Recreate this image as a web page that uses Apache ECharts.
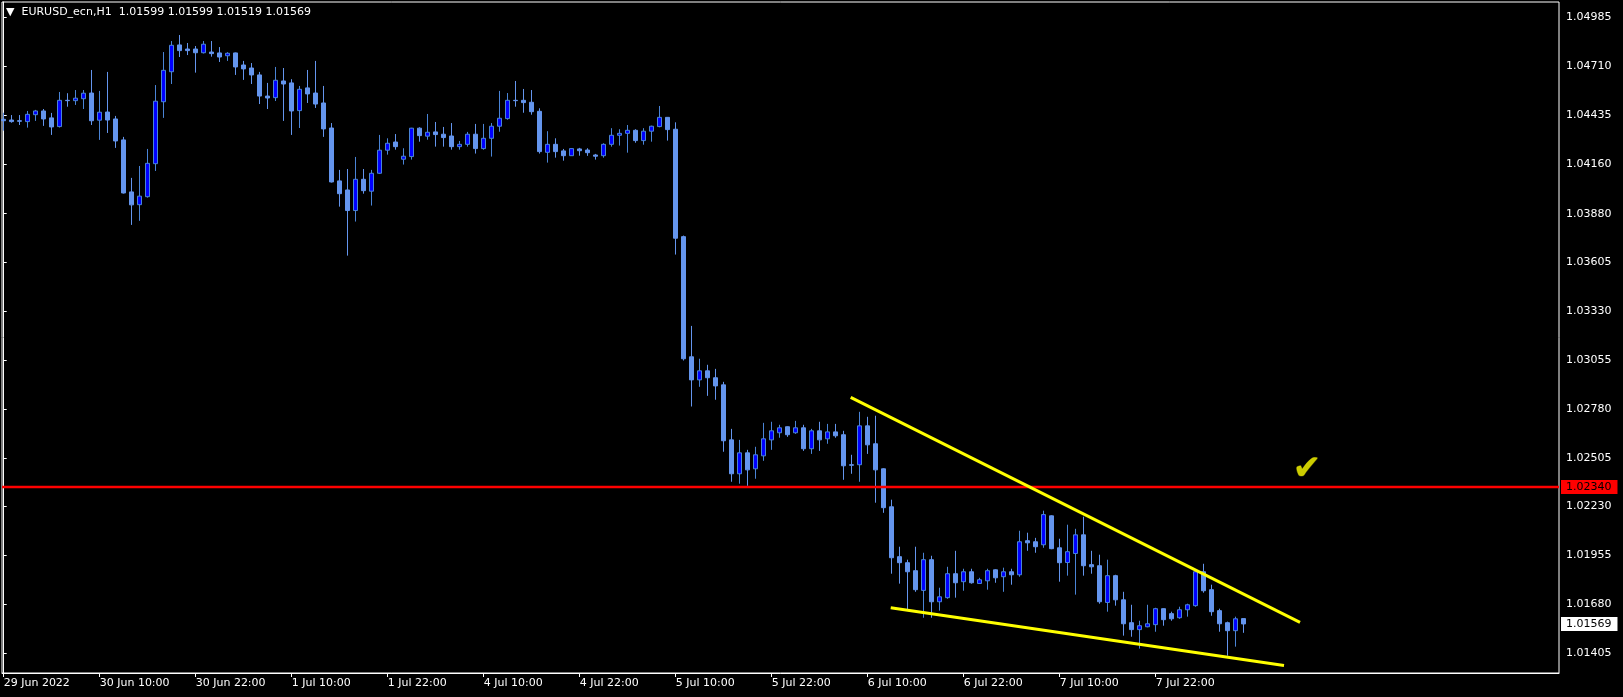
<!DOCTYPE html>
<html><head><meta charset="utf-8">
<script src="https://cdn.jsdelivr.net/npm/echarts@6/dist/echarts.min.js"></script>
<style>html,body{margin:0;padding:0;background:#000;}#c{width:1623px;height:697px;}</style>
</head><body><div id="c"></div>
<script>
const symbolName = 'EURUSD_ecn,H1';
const opens = [1.04412,1.04408,1.04404,1.04399,1.04438,1.04459,1.04420,1.04371,1.04519,1.04517,1.04528,1.04560,1.04407,1.04453,1.04414,1.04296,1.04003,1.03931,1.03976,1.04162,1.04511,1.04680,1.04831,1.04808,1.04808,1.04787,1.04791,1.04786,1.04770,1.04786,1.04718,1.04701,1.04662,1.04543,1.04534,1.04628,1.04617,1.04461,1.04589,1.04560,1.04504,1.04363,1.04065,1.04014,1.03898,1.04074,1.04007,1.04108,1.04238,1.04284,1.04187,1.04202,1.04362,1.04317,1.04341,1.04328,1.04318,1.04258,1.04271,1.04328,1.04247,1.04305,1.04373,1.04416,1.04519,1.04519,1.04508,1.04457,1.04226,1.04271,1.04234,1.04207,1.04245,1.04239,1.04211,1.04207,1.04271,1.04322,1.04333,1.04350,1.04292,1.04345,1.04371,1.04423,1.04356,1.03751,1.03074,1.02944,1.02995,1.02956,1.02916,1.02606,1.02415,1.02533,1.02443,1.02516,1.02606,1.02646,1.02680,1.02646,1.02674,1.02556,1.02657,1.02612,1.02651,1.02635,1.02466,1.02466,1.02685,1.02584,1.02443,1.02229,1.01948,1.01914,1.01869,1.01758,1.01931,1.01694,1.01717,1.01852,1.01807,1.01863,1.01797,1.01812,1.01874,1.01835,1.01863,1.01846,1.02038,1.02032,1.02015,1.02178,1.01998,1.01915,1.01966,1.02071,1.01903,1.01897,1.01690,1.01841,1.01705,1.01576,1.01537,1.01553,1.01565,1.01655,1.01627,1.01604,1.01649,1.01672,1.01863,1.01762,1.01644,1.01576,1.01531,1.01599];
const highs = [1.04449,1.04436,1.04436,1.04459,1.04465,1.04470,1.04448,1.04566,1.04559,1.04577,1.04577,1.04690,1.04572,1.04679,1.04431,1.04313,1.04082,1.04149,1.04245,1.04605,1.04791,1.04853,1.04887,1.04842,1.04825,1.04853,1.04853,1.04819,1.04790,1.04788,1.04741,1.04729,1.04679,1.04617,1.04707,1.04701,1.04638,1.04600,1.04690,1.04741,1.04600,1.04391,1.04127,1.04132,1.04200,1.04132,1.04127,1.04324,1.04305,1.04329,1.04249,1.04364,1.04367,1.04442,1.04397,1.04369,1.04391,1.04290,1.04341,1.04386,1.04386,1.04391,1.04572,1.04560,1.04628,1.04583,1.04577,1.04474,1.04345,1.04305,1.04245,1.04248,1.04251,1.04249,1.04217,1.04277,1.04362,1.04356,1.04380,1.04356,1.04362,1.04376,1.04487,1.04425,1.04395,1.03757,1.03248,1.03063,1.03029,1.03006,1.02933,1.02668,1.02606,1.02550,1.02567,1.02702,1.02708,1.02691,1.02682,1.02713,1.02691,1.02668,1.02708,1.02696,1.02696,1.02657,1.02522,1.02764,1.02736,1.02742,1.02446,1.02269,1.02004,1.01931,1.02004,1.01970,1.01953,1.01773,1.01891,1.01981,1.01880,1.01880,1.01829,1.01880,1.01877,1.01886,1.01880,1.02094,1.02083,1.02054,1.02207,1.02181,1.02049,1.02128,1.02105,1.02173,1.01981,1.01959,1.01931,1.01846,1.01750,1.01677,1.01587,1.01677,1.01660,1.01657,1.01638,1.01666,1.01683,1.01865,1.01908,1.01790,1.01655,1.01582,1.01610,1.01599];
const lows = [1.04348,1.04393,1.04380,1.04365,1.04403,1.04375,1.04324,1.04366,1.04483,1.04493,1.04470,1.04380,1.04296,1.04335,1.04251,1.03994,1.03817,1.03840,1.03971,1.04121,1.04420,1.04611,1.04763,1.04774,1.04675,1.04783,1.04765,1.04735,1.04741,1.04662,1.04634,1.04611,1.04498,1.04470,1.04515,1.04403,1.04324,1.04363,1.04504,1.04476,1.04313,1.04056,1.03920,1.03644,1.03836,1.03993,1.03926,1.04104,1.04213,1.04241,1.04157,1.04185,1.04286,1.04297,1.04258,1.04258,1.04241,1.04241,1.04258,1.04219,1.04241,1.04202,1.04342,1.04410,1.04483,1.04449,1.04438,1.04219,1.04168,1.04196,1.04179,1.04206,1.04207,1.04206,1.04185,1.04196,1.04258,1.04264,1.04224,1.04280,1.04269,1.04286,1.04367,1.04292,1.03650,1.03053,1.02794,1.02905,1.02854,1.02832,1.02539,1.02370,1.02359,1.02347,1.02387,1.02488,1.02550,1.02618,1.02623,1.02640,1.02544,1.02527,1.02544,1.02584,1.02618,1.02381,1.02415,1.02370,1.02527,1.02252,1.02195,1.01852,1.01796,1.01649,1.01750,1.01604,1.01604,1.01644,1.01711,1.01717,1.01756,1.01796,1.01796,1.01762,1.01801,1.01750,1.01790,1.01835,1.01981,1.01970,1.01998,1.01990,1.01807,1.01841,1.01734,1.01841,1.01852,1.01683,1.01638,1.01672,1.01503,1.01497,1.01430,1.01550,1.01525,1.01559,1.01587,1.01598,1.01610,1.01666,1.01745,1.01615,1.01525,1.01390,1.01441,1.01519];
const closes = [1.04404,1.04399,1.04401,1.04440,1.04459,1.04414,1.04369,1.04519,1.04517,1.04531,1.04559,1.04404,1.04452,1.04408,1.04290,1.03997,1.03930,1.03979,1.04164,1.04514,1.04688,1.04829,1.04799,1.04799,1.04787,1.04835,1.04782,1.04763,1.04784,1.04707,1.04696,1.04662,1.04543,1.04532,1.04632,1.04611,1.04459,1.04581,1.04555,1.04498,1.04358,1.04059,1.03993,1.03898,1.04074,1.04010,1.04108,1.04238,1.04277,1.04258,1.04204,1.04362,1.04320,1.04339,1.04326,1.04309,1.04258,1.04271,1.04328,1.04247,1.04305,1.04373,1.04418,1.04519,1.04517,1.04506,1.04455,1.04230,1.04271,1.04230,1.04207,1.04247,1.04235,1.04224,1.04204,1.04271,1.04322,1.04333,1.04350,1.04292,1.04345,1.04373,1.04423,1.04354,1.03742,1.03063,1.02944,1.02995,1.02956,1.02910,1.02601,1.02415,1.02533,1.02437,1.02522,1.02612,1.02657,1.02674,1.02635,1.02674,1.02556,1.02657,1.02606,1.02651,1.02629,1.02460,1.02463,1.02685,1.02578,1.02437,1.02224,1.01942,1.01914,1.01863,1.01762,1.01931,1.01694,1.01722,1.01852,1.01801,1.01863,1.01801,1.01818,1.01869,1.01829,1.01863,1.01846,1.02032,1.02026,1.02004,1.02185,1.01993,1.01914,1.01976,1.02071,1.01897,1.01891,1.01694,1.01841,1.01705,1.01570,1.01537,1.01559,1.01570,1.01655,1.01593,1.01598,1.01649,1.01677,1.01863,1.01756,1.01638,1.01570,1.01531,1.01598,1.01569];
const timeTickIndex = [0,12,24,36,48,60,72,84,96,108,120,132,144];
const timeTickLabels = ['29 Jun 2022','30 Jun 10:00','30 Jun 22:00','1 Jul 10:00','1 Jul 22:00','4 Jul 10:00','4 Jul 22:00','5 Jul 10:00','5 Jul 22:00','6 Jul 10:00','6 Jul 22:00','7 Jul 10:00','7 Jul 22:00'];
const priceTicks = [1.01405,1.01680,1.01955,1.02230,1.02505,1.02780,1.03055,1.03330,1.03605,1.03880,1.04160,1.04435,1.04710,1.04985];
const levelPrice = 1.02340;
const upperTrend = [[105.875, 1.02845],[162.04, 1.01578]];
const lowerTrend = [[110.875, 1.01660],[160.04, 1.01335]];
const checkMark = [162.9, 1.02437];
const xMin = -0.2125, xMax = 194.4125;
const yMin = 1.012926, yMax = 1.050729;

const FONT = 'DejaVu Sans';
const candleData = opens.map((o, i) => [i, o, closes[i], lows[i], highs[i]]);
const last = opens.length - 1;
const fmt = v => v.toFixed(5);
const chart = echarts.init(document.getElementById('c'), null, {renderer: 'canvas'});
chart.setOption({
  animation: false,
  backgroundColor: '#000000',
  title: {
    text: '▼  ' + symbolName + '  ' + [opens[last], highs[last], lows[last], closes[last]].map(fmt).join(' '),
    left: 6, top: 7, padding: 0,
    textStyle: {color: '#ffffff', fontSize: 11, fontWeight: 'normal', fontFamily: FONT}
  },
  grid: {left: 2, top: 2, right: 64, bottom: 24, show: true, borderColor: '#ffffff', borderWidth: 1, backgroundColor: '#000000'},
  xAxis: {
    type: 'value', min: xMin, max: xMax,
    axisLine: {show: true, lineStyle: {color: '#ffffff', width: 1}},
    axisTick: {show: true, length: 4, lineStyle: {color: '#ffffff'}, customValues: timeTickIndex},
    axisLabel: {show: true, color: '#ffffff', fontSize: 11, fontFamily: FONT, align: 'left', margin: 5,
      customValues: timeTickIndex,
      formatter: v => timeTickLabels[timeTickIndex.indexOf(Math.round(v))] || ''},
    splitLine: {show: false}
  },
  yAxis: [{
    type: 'value', position: 'right', min: yMin, max: yMax,
    axisLine: {show: true, lineStyle: {color: '#ffffff', width: 1}},
    axisTick: {show: true, length: 3, lineStyle: {color: '#ffffff'}, customValues: priceTicks},
    axisLabel: {show: true, color: '#ffffff', fontSize: 11, fontFamily: FONT, margin: 7,
      customValues: priceTicks, formatter: v => fmt(v)},
    splitLine: {show: false}
  }, {
    type: 'value', position: 'right', min: yMin, max: yMax, offset: 0,
    axisLine: {show: false}, axisTick: {show: false}, splitLine: {show: false},
    axisLabel: {show: true, fontSize: 11, fontFamily: FONT, margin: 2,
      customValues: [closes[last], levelPrice],
      formatter: v => (Math.abs(v - levelPrice) < 1e-9 ? '{r|' : '{w|') + fmt(v) + '}',
      rich: {
        r: {backgroundColor: '#ff0000', color: '#000000', fontSize: 11, fontFamily: FONT, padding: [2, 6, 1, 5]},
        w: {backgroundColor: '#ffffff', color: '#000000', fontSize: 11, fontFamily: FONT, padding: [2, 6, 1, 5]}
      }}
  }],
  series: [
    {
      type: 'candlestick', data: candleData, barWidth: 5, clip: true,
      itemStyle: {color: '#0000ff', color0: '#6495ed', borderColor: '#4a84d6', borderColor0: '#6495ed', borderWidth: 1}
    },
    {type: 'line', data: [[xMin, levelPrice], [xMax, levelPrice]], symbol: 'none', lineStyle: {color: '#ff0000', width: 2.5}},
    {type: 'line', data: upperTrend, symbol: 'none', lineStyle: {color: '#ffff00', width: 3}},
    {type: 'line', data: lowerTrend, symbol: 'none', lineStyle: {color: '#ffff00', width: 3}},
    {
      type: 'scatter', data: [checkMark], symbolSize: 1, itemStyle: {color: 'transparent'},
      label: {show: true, position: 'inside', formatter: '✔', color: '#ffff00', fontSize: 34, fontFamily: FONT,
              textBorderColor: '#6b6b00', textBorderWidth: 1}
    }
  ]
});
</script></body></html>
